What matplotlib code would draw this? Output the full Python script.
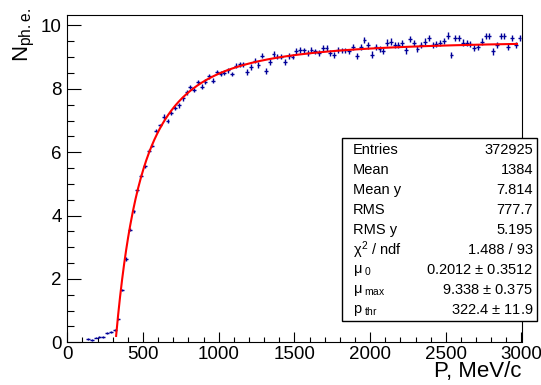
import matplotlib
matplotlib.use("Agg")
import matplotlib.pyplot as plt
from matplotlib.patches import Rectangle
from matplotlib.ticker import MultipleLocator
import numpy as np

plt.rcParams['font.family'] = ['Liberation Sans', 'DejaVu Sans']
plt.rcParams['mathtext.fontset'] = 'custom'
plt.rcParams['mathtext.rm'] = 'Liberation Sans'
plt.rcParams['mathtext.it'] = 'Liberation Sans'
plt.rcParams['mathtext.sf'] = 'Liberation Sans'

# ---- data ----
bin_width = 25.0
first_center = 137.5
n_phe = [
    0.10, 0.08, 0.15, 0.16, 0.18, 0.28, 0.32, 0.39, 0.74, 1.65,
    2.63, 3.55, 4.14, 4.80, 5.26, 5.55, 6.05, 6.21, 6.68, 6.85,
    7.12, 6.99, 7.23, 7.39, 7.48, 7.70, 7.89, 8.05, 7.97, 8.21,
    8.07, 8.23, 8.39, 8.26, 8.53, 8.48, 8.51, 8.58, 8.47, 8.73,
    8.77, 8.77, 8.53, 8.69, 8.89, 8.76, 9.05, 8.57, 8.85, 9.10,
    9.02, 9.02, 8.84, 9.04, 9.02, 9.20, 9.23, 9.21, 9.13, 9.23,
    9.18, 9.13, 9.29, 9.29, 9.13, 9.06, 9.23, 9.21, 9.21, 9.18,
    9.31, 9.04, 9.33, 9.55, 9.37, 9.08, 9.33, 9.26, 9.20, 9.46,
    9.49, 9.39, 9.39, 9.44, 9.21, 9.58, 9.44, 9.25, 9.39, 9.49,
    9.60, 9.39, 9.42, 9.44, 9.51, 9.68, 9.07, 9.60, 9.60, 9.46,
    9.44, 9.42, 9.28, 9.33, 9.49, 9.67, 9.67, 9.18, 9.39, 9.67,
    9.67, 9.33, 9.60, 9.39, 9.60,
]
n_err = (
    [0.03] * 10 + [0.05] * 10 + [0.07] * 20 + [0.09] * 30 + [0.10] * 45
)
p_centers = first_center + bin_width * np.arange(len(n_phe))

# fit parameters (from stat box); particle mass used in the threshold curve
mu0 = 0.2012
mu_max = 9.338
p_thr = 322.4
m_particle = 105.66
p_fit_end = 2970

stat_labels = ["Entries", "Mean", "Mean y", "RMS", "RMS y",
               r"$\chi^{2}$ / ndf", r"$\mu_{\ 0}$", r"$\mu_{\ max}$", r"$\mathregular{p}_{\ thr}$"]
stat_values = ["372925", "1384", "7.814", "777.7", "5.195", "1.488 / 93",
               "0.2012 $\\pm$ 0.3512", "9.338 $\\pm$ 0.375", "322.4 $\\pm$ 11.9"]

# ---- figure ----
W, H = 541, 385
fig = plt.figure(figsize=(W / 100, H / 100), dpi=100)
ax_l, ax_r, ax_t, ax_b = 67.3, 521.5, 15.0, 342.3
ax = fig.add_axes([ax_l / W, (H - ax_b) / H, (ax_r - ax_l) / W, (ax_b - ax_t) / H])

ax.errorbar(p_centers, n_phe, xerr=bin_width / 2, yerr=n_err, fmt='none',
            ecolor='#000099', elinewidth=1.0, capsize=0, zorder=2)

pc = np.linspace(p_thr, p_fit_end, 600)
fc = mu0 + mu_max * (pc ** 2 - p_thr ** 2) / (pc ** 2 + m_particle ** 2)
ax.plot(pc, fc, color='#ff0000', lw=1.5, zorder=3)

ax.set_xlim(0, 3000)
ax.set_ylim(0, 10.33)
ax.xaxis.set_major_locator(MultipleLocator(500))
ax.xaxis.set_minor_locator(MultipleLocator(100))
ax.yaxis.set_major_locator(MultipleLocator(2))
ax.yaxis.set_minor_locator(MultipleLocator(0.5))
ax.tick_params(which='both', direction='in', top=False, right=False, width=0.8,
               labelsize=13.5, colors='black')
ax.xaxis.set_tick_params(which='major', length=7.0, pad=3)
ax.xaxis.set_tick_params(which='minor', length=3.5)
ax.yaxis.set_tick_params(which='major', length=9.8, pad=4)
ax.yaxis.set_tick_params(which='minor', length=4.9)
for s in ax.spines.values():
    s.set_linewidth(0.8)

fig.text(ax_r / W, 1 - 372 / H, "P, MeV/c", ha='right', va='center', fontsize=16)
fig.text(24 / W, 1 - 8 / H, r"N$_{\mathregular{ph.e.}}$", rotation=90,
         ha='center', va='top', fontsize=16)

# stat box
bx0, bx1, by0, by1 = 341.7, 537.0, 138.0, 321.0
fig.add_artist(Rectangle((bx0 / W, 1 - by1 / H), (bx1 - bx0) / W, (by1 - by0) / H,
                         transform=fig.transFigure, facecolor='white',
                         edgecolor='black', lw=1.0, zorder=5))
for i, (lab, val) in enumerate(zip(stat_labels, stat_values)):
    yc = 150 + 20 * i
    fig.text(352.7 / W, 1 - yc / H, lab, ha='left', va='center', fontsize=10.5, zorder=6)
    fig.text(533 / W, 1 - yc / H, val, ha='right', va='center', fontsize=10.5, zorder=6)

fig.savefig("out.png", dpi=100)
